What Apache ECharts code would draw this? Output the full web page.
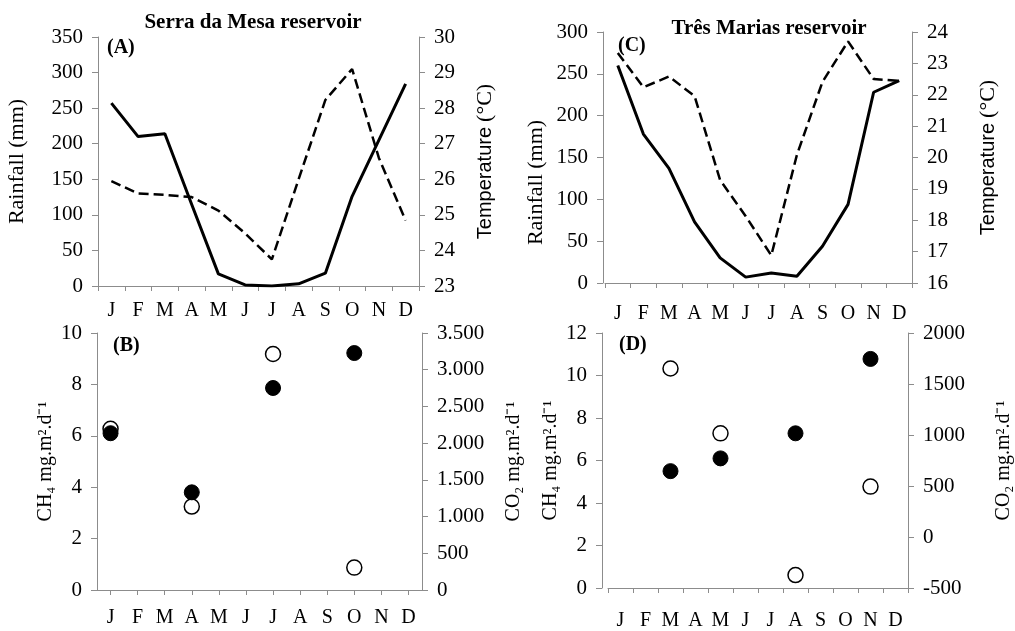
<!DOCTYPE html>
<html>
<head>
<meta charset="utf-8">
<script src="https://cdn.jsdelivr.net/npm/echarts@6/dist/echarts.min.js"></script>
<style>
  html, body { margin: 0; padding: 0; background: #fff; }
  #chart { width: 1015px; height: 631px; }
</style>
</head>
<body>
<div id="chart"></div>
<script>
// months on every x axis
const months = ['J', 'F', 'M', 'A', 'M', 'J', 'J', 'A', 'S', 'O', 'N', 'D'];

// (A) Serra da Mesa: rainfall (mm) and temperature (°C)
const rainSerra = [257, 210, 214, 115, 17, 1.5, 0, 3, 18, 126, 205, 284];
const tempSerra = [25.95, 25.6, 25.56, 25.5, 25.12, 24.48, 23.75, 26.0, 28.23, 29.1, 26.6, 24.84];

// (C) Três Marias: rainfall (mm) and temperature (°C)
const rainTres = [260, 178, 137, 73, 30, 7, 12, 8, 44, 94, 228, 242];
const tempTres = [23.33, 22.24, 22.58, 21.96, 19.28, 18.13, 16.88, 20.08, 22.41, 23.7, 22.5, 22.44];

// (B) Serra da Mesa fluxes
const ch4Serra = [6.1, null, null, 3.8, null, null, 7.86, null, null, 9.22, null, null];
const co2Serra = [2195, null, null, 1136, null, null, 3214, null, null, 305, null, null];

// (D) Três Marias fluxes
const ch4Tres = [null, null, 5.5, null, 6.1, null, null, 7.28, null, null, 10.78, null];
const co2Tres = [null, null, 1652, null, 1016, null, null, -373, null, null, 494, null];

const serif = 'Liberation Serif, Times New Roman, serif';
const gray = '#8c8c8c';

function xAxis(grid, margin, align) {
    return {
        type: 'category',
        gridIndex: grid,
        data: months,
        axisLine: { lineStyle: { color: gray, width: 1 } },
        axisTick: { show: true, length: 5, alignWithLabel: !!align, lineStyle: { color: gray } },
        axisLabel: { color: '#000', fontFamily: serif, fontSize: 20, margin: margin },
        splitLine: { show: false }
    };
}

function yAxis(grid, pos, min, max, interval, name, gap, extra) {
    return Object.assign({
        type: 'value',
        gridIndex: grid,
        position: pos,
        min: min,
        max: max,
        interval: interval,
        name: name,
        nameLocation: 'middle',
        nameRotate: 90,
        nameGap: gap,
        nameTextStyle: {
            color: '#000',
            fontFamily: serif,
            fontSize: 20,
            rich: {
                s: { fontFamily: 'Liberation Sans Narrow, Arial Narrow, Liberation Sans, sans-serif', fontSize: 20, color: '#000' },
                t: { fontFamily: serif, fontSize: 22, color: '#000' }
            }
        },
        axisLine: { show: true, lineStyle: { color: gray, width: 1 } },
        axisTick: { show: true, length: 6, lineStyle: { color: gray } },
        axisLabel: { color: '#000', fontFamily: serif, fontSize: 21, margin: 15, formatter: v => String(v) },
        splitLine: { show: false }
    }, extra || {});
}

// European thousands separator, as on the original right axis of (B)
const dotFormat = v => (Math.abs(v) >= 1000 ? String(v).replace(/(\d)(\d{3})$/, '$1.$2') : String(v));

const chart = echarts.init(document.getElementById('chart'));

const option = {
    backgroundColor: '#fff',
    animation: false,
    title: [
        {
            text: 'Serra da Mesa reservoir',
            left: 248, top: 7, textAlign: 'center',
            textStyle: { fontFamily: serif, fontSize: 21, fontWeight: 'bold', color: '#000' }
        },
        {
            text: 'Três Marias reservoir',
            left: 764, top: 13, textAlign: 'center',
            textStyle: { fontFamily: serif, fontSize: 21, fontWeight: 'bold', color: '#000' }
        }
    ],
    graphic: [
        { type: 'text', left: 107, top: 38, style: { text: '(A)', font: 'bold 20px ' + serif, fill: '#000' } },
        { type: 'text', left: 618, top: 36, style: { text: '(C)', font: 'bold 20px ' + serif, fill: '#000' } },
        { type: 'text', left: 113, top: 336, style: { text: '(B)', font: 'bold 20px ' + serif, fill: '#000' } },
        { type: 'text', left: 619, top: 335, style: { text: '(D)', font: 'bold 20px ' + serif, fill: '#000' } }
    ],
    grid: [
        { left: 98, right: 596, top: 37, bottom: 345 },
        { left: 605, right: 103, top: 32, bottom: 348 },
        { left: 97, right: 593, top: 333, bottom: 41 },
        { left: 608, right: 98, top: 333, bottom: 34 }
    ],
    xAxis: [
        xAxis(0, 15),
        xAxis(1, 21),
        xAxis(2, 18, true),
        xAxis(3, 23)
    ],
    yAxis: [
        yAxis(0, 'left', 0, 350, 50, 'Rainfall (mm)', 70, { nameTextStyle: { color: '#000', fontFamily: serif, fontSize: 22 } }),
        yAxis(0, 'right', 23, 30, 1, '{s|Temperature} {t|(°C)}', 55),
        yAxis(1, 'left', 0, 300, 50, 'Rainfall (mm)', 56, {
            offset: 2,
            nameTextStyle: { color: '#000', fontFamily: serif, fontSize: 22, padding: [0, 50, 0, 0] }
        }),
        yAxis(1, 'right', 16, 24, 1, '{s|Temperature} {t|(°C)}', 65),
        yAxis(2, 'left', 0, 10, 2, 'CH₄ mg.m².d⁻¹', 41),
        yAxis(2, 'right', 0, 3500, 500, 'CO₂ mg.m².d⁻¹', 82, {
            axisLabel: { color: '#000', fontFamily: serif, fontSize: 21, margin: 15, formatter: dotFormat }
        }),
        yAxis(3, 'left', 0, 12, 2, 'CH₄ mg.m².d⁻¹', 41, { offset: 6 }),
        yAxis(3, 'right', -500, 2000, 500, 'CO₂ mg.m².d⁻¹', 86)
    ],
    series: [
        {
            name: 'Rainfall', type: 'line', xAxisIndex: 0, yAxisIndex: 0, data: rainSerra,
            showSymbol: false, lineStyle: { color: '#000', width: 3 }
        },
        {
            name: 'Temperature', type: 'line', xAxisIndex: 0, yAxisIndex: 1, data: tempSerra,
            showSymbol: false, lineStyle: { color: '#000', width: 2.5, type: [10, 5] }
        },
        {
            name: 'Rainfall', type: 'line', xAxisIndex: 1, yAxisIndex: 2, data: rainTres,
            showSymbol: false, lineStyle: { color: '#000', width: 3 }
        },
        {
            name: 'Temperature', type: 'line', xAxisIndex: 1, yAxisIndex: 3, data: tempTres,
            showSymbol: false, lineStyle: { color: '#000', width: 2.5, type: [10, 5] }
        },
        {
            name: 'CO2', type: 'scatter', xAxisIndex: 2, yAxisIndex: 5, data: co2Serra,
            symbolSize: 15, itemStyle: { color: '#fff', borderColor: '#000', borderWidth: 1.5, opacity: 1 }
        },
        {
            name: 'CH4', type: 'scatter', xAxisIndex: 2, yAxisIndex: 4, data: ch4Serra,
            symbolSize: 15, itemStyle: { color: '#000', borderColor: '#000', borderWidth: 1, opacity: 1 }
        },
        {
            name: 'CO2', type: 'scatter', xAxisIndex: 3, yAxisIndex: 7, data: co2Tres,
            symbolSize: 15, itemStyle: { color: '#fff', borderColor: '#000', borderWidth: 1.5, opacity: 1 }
        },
        {
            name: 'CH4', type: 'scatter', xAxisIndex: 3, yAxisIndex: 6, data: ch4Tres,
            symbolSize: 15, itemStyle: { color: '#000', borderColor: '#000', borderWidth: 1, opacity: 1 }
        }
    ]
};

chart.setOption(option);
</script>
</body>
</html>
